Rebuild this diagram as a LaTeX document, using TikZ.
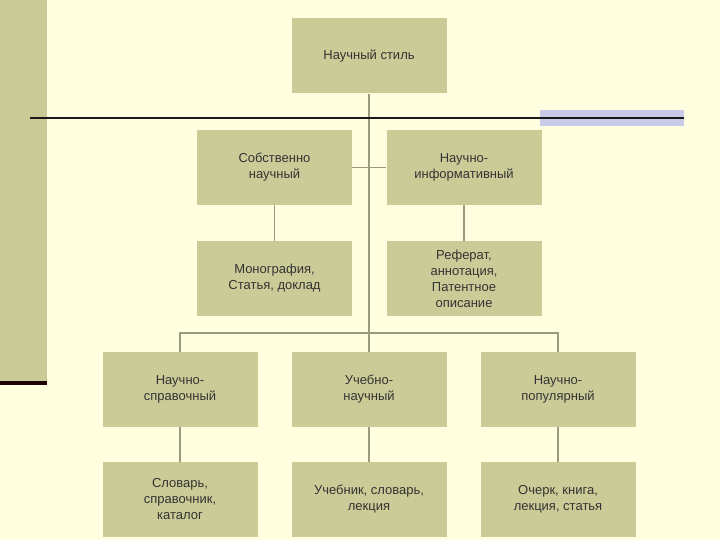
\documentclass[tikz,border=0pt]{standalone}
\usepackage{fontspec}
\setmainfont{Liberation Sans}
\begin{document}
\begin{tikzpicture}[x=1pt,y=-1pt,
  bx/.style={draw=none,fill=boxc,minimum width=155pt,minimum height=75pt,inner sep=0pt,align=center,font=\fontsize{13}{16}\selectfont,text=black!80},
  ln/.style={draw=linec,line width=1.6pt}]
\definecolor{bgc}{HTML}{FFFFE0}
\definecolor{boxc}{HTML}{CBCB98}
\definecolor{linec}{HTML}{9A9A7C}
\definecolor{barc}{HTML}{CACA96}
\fill[bgc] (0,0) rectangle (720,540);
\useasboundingbox (0,0) rectangle (720,540);
\fill[barc] (0,0) rectangle (47,381);
\fill[black!70!red!40!black] (0,381) rectangle (47,385);
\fill[gray!60!blue!30] (540,110) rectangle (684,126);
\node[bx] (top) at (369,56) {Научный стиль};
\node[bx] (sn) at (274.5,167.5) {Собственно\\научный};
\node[bx] (ni) at (464,167.5) {Научно-\\информативный};
\node[bx] (mo) at (274.5,278.5) {Монография,\\Статья, доклад};
\node[bx] (re) at (464,278.5) {Реферат,\\аннотация,\\Патентное\\описание};
\node[bx] (sp) at (180,389.5) {Научно-\\справочный};
\node[bx] (un) at (369,389.5) {Учебно-\\научный};
\node[bx] (po) at (558,389.5) {Научно-\\популярный};
\node[bx] (sl) at (180,499.5) {Словарь,\\справочник,\\каталог};
\node[bx] (uc) at (369,499.5) {Учебник, словарь,\\лекция};
\node[bx] (oc) at (558,499.5) {Очерк, книга,\\лекция, статья};
\coordinate (hl) at (180,333);
\coordinate (hr) at (558,333);
\coordinate (hm) at (369,333);
\draw[ln] (top.south) -- (hm) -- (un.north);
\draw[ln] (sp.north) -- (hl) -- (hr) -- (po.north);
\draw[ln] (sn.east) -- (ni.west);
\draw[ln] (ni.south) -- (re.north);
\draw[ln] (sn.south) -- (mo.north);
\draw[ln] (sp.south) -- (sl.north);
\draw[ln] (un.south) -- (uc.north);
\draw[ln] (po.south) -- (oc.north);
\coordinate (bl) at (30,118);
\coordinate (br) at (684,118);
\draw[line width=2pt,black!90] (bl) -- (br);
\end{tikzpicture}
\end{document}
